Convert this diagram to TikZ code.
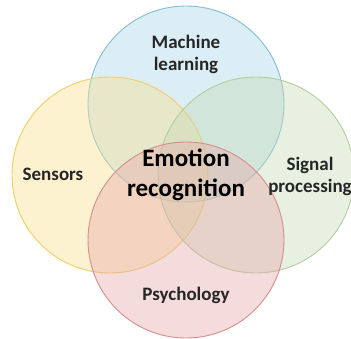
\documentclass[tikz,border=0pt]{standalone}
\usepackage{fontspec}
\setmainfont{Carlito}
\usepackage{xcolor}
\definecolor{mlfill}{RGB}{167,212,230}
\definecolor{mlline}{RGB}{130,190,212}
\definecolor{senfill}{RGB}{250,222,138}
\definecolor{senline}{RGB}{240,205,100}
\definecolor{sigfill}{RGB}{197,217,180}
\definecolor{sigline}{RGB}{180,205,160}
\definecolor{psyfill}{RGB}{230,167,167}
\definecolor{psyline}{RGB}{215,140,140}
\usetikzlibrary{positioning}

\begin{document}
\begin{tikzpicture}[x=1pt,y=-1pt,
 field/.style={circle,line width=0.9pt,minimum size=196pt,inner sep=0pt,
   fill opacity=0.4},
 topic/.style={font=\fontsize{19}{22}\selectfont\bfseries,text=black!85,
   align=center}]
 \useasboundingbox (0,0) rectangle (351,338);
 \node[field,fill=mlfill,draw=mlline] (ml) at (186,104) {};
 \node[field,fill=senfill,draw=senline] (sen) at (110,175) {};
 \node[field,fill=sigfill,draw=sigline] (sig) at (256,175) {};
 \node[field,fill=psyfill,draw=psyline] (psy) at (186,240) {};
 \node[topic] (mltext) at (186,54) {Machine\\learning};
 \node[topic] (sentext) at (53,174) {Sensors};
 \node[topic] (sigtext) at (310,176) {Signal\\processing};
 \node[topic] (psytext) at (186,295) {Psychology};
 \node[font=\fontsize{25}{30}\selectfont\bfseries,align=center] (emo)
   at (186,175) {Emotion\\recognition};
\end{tikzpicture}
\end{document}
